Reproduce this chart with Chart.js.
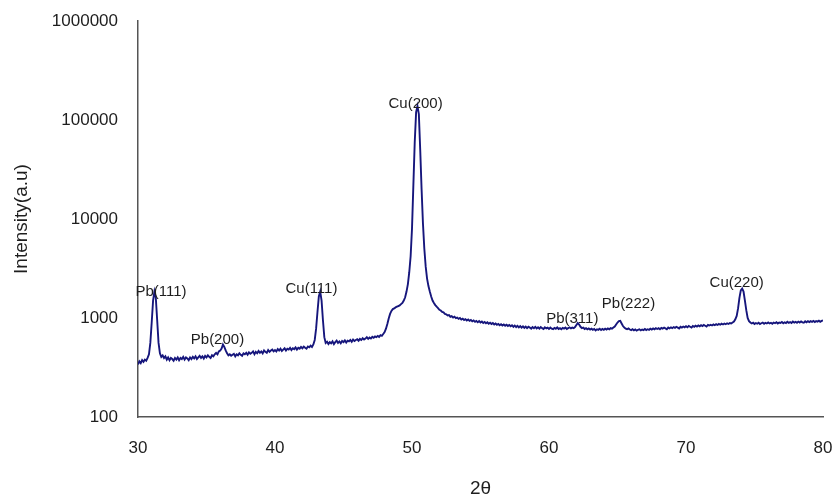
<!DOCTYPE html>
<html>
<head>
<meta charset="utf-8">
<script src="https://cdn.jsdelivr.net/npm/chart.js@4"></script>
<style>
  html, body { margin: 0; padding: 0; background: #fff; }
</style>
</head>
<body>
<canvas id="xrd" width="837" height="500"></canvas>
<script>
// scan grid: 30 -> 80 deg 2theta, 0.1 deg per reading
var scanStart = 30;
var scanStep = 0.1;

// intensity, one row per degree (30.0 .. 30.9, 31.0 .. 31.9, ...)
var intensity = [
  340, 365, 350, 375, 360, 380, 370, 395, 430, 560,
  900, 1500, 1850, 1600, 950, 560, 440, 405, 420, 395,
  410, 380, 400, 375, 395, 385, 370, 395, 380, 400,
  375, 395, 385, 405, 380, 400, 390, 375, 400, 385,
  405, 390, 410, 385, 400, 415, 395, 410, 390, 415,
  400, 420, 405, 395, 420, 410, 430, 445, 430, 460,
  470, 490, 540, 510, 470, 440, 420, 430, 415, 425,
  435, 410, 430, 420, 440, 425, 415, 440, 430, 445,
  425, 450, 435, 445, 460, 430, 455, 440, 465, 445,
  460, 440, 470, 455, 445, 475, 455, 470, 480, 460,
  475, 460, 485, 470, 490, 465, 480, 495, 470, 490,
  480, 500, 475, 495, 485, 505, 480, 500, 490, 510,
  495, 515, 500, 490, 515, 505, 525, 510, 540, 600,
  780, 1150, 1650, 1850, 1500, 950, 640, 560, 575, 545,
  570, 555, 580, 545, 570, 590, 560, 580, 555, 585,
  570, 595, 565, 590, 580, 600, 575, 605, 585, 600,
  610, 590, 615, 600, 625, 605, 620, 640, 615, 635,
  620, 645, 630, 650, 640, 660, 645, 670, 660, 690,
  720, 780, 870, 990, 1100, 1180, 1230, 1250, 1280, 1300,
  1320, 1340, 1380, 1420, 1500, 1620, 1850, 2200, 2900, 4200,
  8000, 22000, 60000, 120000, 138000, 115000, 50000, 20000, 9000, 5000,
  3300, 2500, 2100, 1850, 1650, 1500, 1420, 1350, 1300, 1260,
  1210, 1190, 1150, 1140, 1100, 1090, 1060, 1070, 1030, 1045,
  1010, 1030, 995, 1010, 980, 1000, 965, 985, 955, 975,
  945, 965, 935, 955, 925, 945, 915, 935, 905, 930,
  900, 920, 890, 910, 885, 905, 875, 895, 870, 890,
  860, 880, 855, 870, 845, 865, 840, 860, 835, 855,
  830, 850, 825, 845, 815, 840, 810, 835, 805, 830,
  800, 825, 795, 820, 790, 815, 800, 780, 810, 790,
  815, 785, 805, 780, 810, 790, 775, 805, 785, 800,
  775, 800, 780, 770, 795, 780, 805, 775, 790, 770,
  795, 780, 800, 775, 790, 805, 785, 800, 790, 810,
  850, 890, 860, 815, 790, 800, 775, 790, 770, 785,
  765, 780, 760, 775, 750, 770, 760, 780, 755, 775,
  760, 780, 765, 785, 770, 790, 780, 800, 820, 860,
  900, 930, 935, 880, 830, 800, 780, 770, 785, 765,
  755, 770, 750, 765, 745, 760, 770, 750, 765, 755,
  775, 755, 770, 760, 780, 765, 785, 770, 790, 775,
  790, 770, 795, 780, 800, 785, 770, 800, 785, 805,
  790, 810, 795, 815, 800, 785, 815, 800, 820, 805,
  825, 805, 830, 815, 800, 830, 815, 835, 820, 840,
  825, 845, 830, 850, 835, 820, 850, 840, 855, 840,
  860, 845, 865, 850, 870, 855, 875, 860, 880, 865,
  885, 870, 890, 880, 900, 920, 970, 1050, 1250, 1600,
  1900, 1980, 1850, 1500, 1200, 1000, 930, 900, 880, 895,
  870, 890, 875, 895, 870, 885, 900, 875, 895, 880,
  900, 880, 895, 875, 900, 885, 905, 880, 900, 890,
  910, 885, 905, 890, 915, 895, 910, 890, 920, 900,
  915, 895, 920, 900, 925, 905, 895, 925, 905, 930,
  910, 930, 915, 935, 910, 930, 920, 940, 915, 935,
  945
];

// peak labels and where they sit (2theta, intensity)
var peakNames = ['Pb(111)', 'Pb(200)', 'Cu(111)', 'Cu(200)', 'Pb(311)', 'Pb(222)', 'Cu(220)'];
var peakLabelX = [31.68, 35.8, 42.66, 50.26, 61.7, 65.8, 73.7];
var peakLabelY = [1840, 600, 1960, 145000, 985, 1385, 2260];

var xTicks = [30, 40, 50, 60, 70, 80];
var yTicks = [100, 1000, 10000, 100000, 1000000];

var FONT = '"Liberation Sans", Arial, sans-serif';

var points = [];
for (var i = 0; i < intensity.length; i++) {
    points.push({ x: Math.round((scanStart + i * scanStep) * 10) / 10, y: intensity[i] });
}

var peakLabels = {
    id: 'peakLabels',
    afterDatasetsDraw: function (chart) {
        var ctx = chart.ctx;
        var xs = chart.scales.x;
        var ys = chart.scales.y;
        ctx.save();
        ctx.font = '15px ' + FONT;
        ctx.fillStyle = '#1e1e1e';
        ctx.textAlign = 'center';
        ctx.textBaseline = 'middle';
        for (var i = 0; i < peakNames.length; i++) {
            ctx.fillText(peakNames[i], xs.getPixelForValue(peakLabelX[i]), ys.getPixelForValue(peakLabelY[i]));
        }
        ctx.restore();
    }
};

var whiteBg = {
    id: 'whiteBg',
    beforeDraw: function (chart) {
        var ctx = chart.ctx;
        ctx.save();
        ctx.fillStyle = '#fff';
        ctx.fillRect(0, 0, chart.width, chart.height);
        ctx.restore();
    }
};

new Chart(document.getElementById('xrd'), {
    type: 'line',
    data: {
        datasets: [{
            data: points,
            borderColor: '#16167c',
            borderWidth: 1.9,
            pointRadius: 0,
            tension: 0,
            fill: false
        }]
    },
    options: {
        responsive: false,
        animation: false,
        layout: { padding: { top: 21, right: 14, left: 0, bottom: 0 } },
        plugins: {
            legend: { display: false },
            tooltip: { enabled: false }
        },
        scales: {
            x: {
                type: 'linear',
                min: 30,
                max: 80,
                afterBuildTicks: function (scale) {
                    scale.ticks = xTicks.map(function (v) { return { value: v }; });
                },
                afterFit: function (scale) { scale.height = 83; },
                // hidden grid, tickLength only used as label offset
                grid: { display: false, tickLength: 21 },
                border: { display: true, color: '#555', width: 1.5 },
                ticks: {
                    padding: 0,
                    color: '#1e1e1e',
                    font: { family: FONT, size: 17 }
                },
                title: {
                    display: true,
                    text: '2θ',
                    color: '#1e1e1e',
                    padding: 0,
                    font: { family: FONT, size: 19 }
                }
            },
            y: {
                type: 'logarithmic',
                min: 100,
                max: 1000000,
                afterBuildTicks: function (scale) {
                    scale.ticks = yTicks.map(function (v) { return { value: v }; });
                },
                afterFit: function (scale) { scale.width = 138; },
                grid: { display: false, tickLength: 20 },
                border: { display: true, color: '#555', width: 1.5 },
                ticks: {
                    padding: 0,
                    color: '#1e1e1e',
                    font: { family: FONT, size: 17 },
                    callback: function (v) { return String(v); }
                },
                title: {
                    display: true,
                    text: 'Intensity(a.u)',
                    color: '#1e1e1e',
                    padding: { top: 10, bottom: 0 },
                    font: { family: FONT, size: 19 }
                }
            }
        }
    },
    plugins: [whiteBg, peakLabels]
});
</script>
</body>
</html>
